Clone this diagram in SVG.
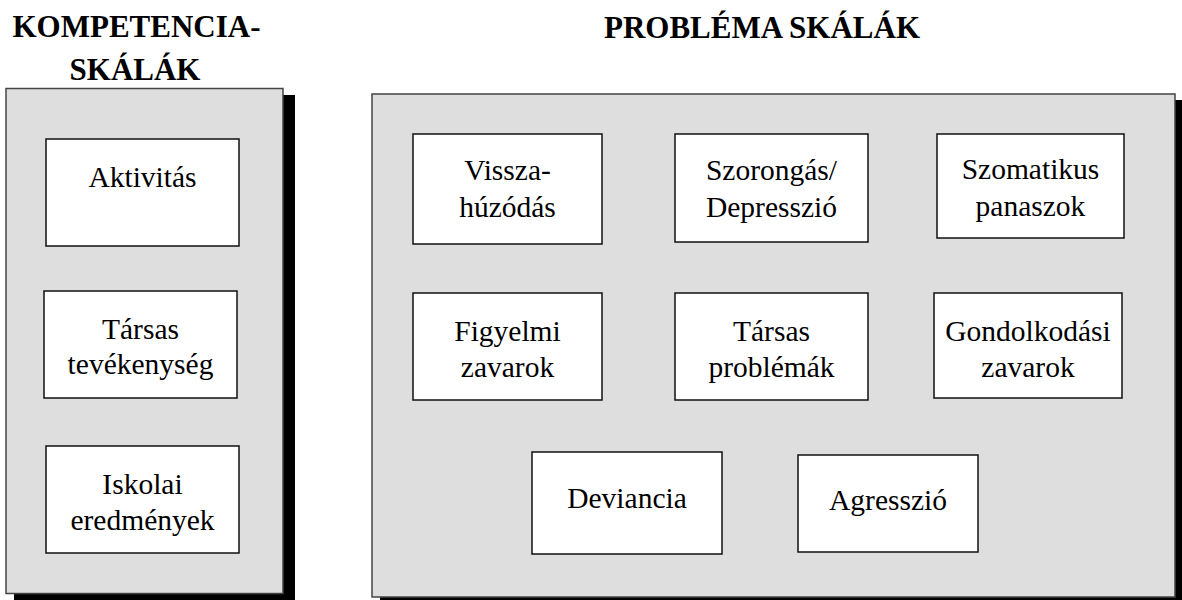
<svg xmlns="http://www.w3.org/2000/svg" width="1182" height="600" viewBox="0 0 1182 600">
<style>
.title{font-family:"Liberation Serif","Times New Roman",serif;font-weight:bold;font-size:31px;fill:#000;text-anchor:middle}
.lbl{font-family:"Liberation Serif","Times New Roman",serif;font-size:29.5px;fill:#000;text-anchor:middle}
.panel{fill:#dedede;stroke:#444;stroke-width:1.5}
.shadow{fill:#000}
.box{fill:#fff;stroke:#111;stroke-width:1.5}
</style>
<rect width="1182" height="600" fill="#fff"/>
<g id="title-kompetencia">
<text class="title" x="136.5" y="37">KOMPETENCIA-</text>
<text class="title" x="135" y="80">SKÁLÁK</text>
</g>
<g id="title-problema">
<text class="title" x="762" y="38">PROBLÉMA SKÁLÁK</text>
</g>
<g id="panel-kompetencia">
<rect class="shadow" x="14" y="95" width="281" height="510"/>
<rect class="panel" x="6" y="88.5" width="277" height="505"/>
</g>
<g id="panel-problema">
<rect class="shadow" x="380" y="100" width="810" height="510"/>
<rect class="panel" x="372" y="94" width="803" height="503"/>
</g>
<g id="node-aktivitas">
<rect class="box" x="46" y="139" width="193" height="107"/>
<text class="lbl" x="142.5" y="187">Aktivitás</text>
</g>
<g id="node-tarsas-tevekenyseg">
<rect class="box" x="44" y="291" width="193" height="107"/>
<text class="lbl" x="140.5" y="339">Társas</text>
<text class="lbl" x="140.5" y="374">tevékenység</text>
</g>
<g id="node-iskolai">
<rect class="box" x="46" y="446" width="193" height="107"/>
<text class="lbl" x="142.5" y="494">Iskolai</text>
<text class="lbl" x="142.5" y="530">eredmények</text>
</g>
<g id="node-visszahuzodas">
<rect class="box" x="413" y="134" width="189" height="110"/>
<text class="lbl" x="507.5" y="180">Vissza-</text>
<text class="lbl" x="507.5" y="217">húzódás</text>
</g>
<g id="node-szorongas">
<rect class="box" x="675" y="134" width="193" height="108"/>
<text class="lbl" x="771.5" y="180">Szorongás/</text>
<text class="lbl" x="771.5" y="217">Depresszió</text>
</g>
<g id="node-szomatikus">
<rect class="box" x="937" y="134" width="187" height="104"/>
<text class="lbl" x="1030.5" y="179">Szomatikus</text>
<text class="lbl" x="1030.5" y="216">panaszok</text>
</g>
<g id="node-figyelmi">
<rect class="box" x="413" y="293" width="189" height="107"/>
<text class="lbl" x="507.5" y="341">Figyelmi</text>
<text class="lbl" x="507.5" y="377">zavarok</text>
</g>
<g id="node-tarsas-problemak">
<rect class="box" x="675" y="293" width="193" height="107"/>
<text class="lbl" x="771.5" y="341">Társas</text>
<text class="lbl" x="771.5" y="377">problémák</text>
</g>
<g id="node-gondolkodasi">
<rect class="box" x="934" y="293" width="188" height="105"/>
<text class="lbl" x="1028" y="341">Gondolkodási</text>
<text class="lbl" x="1028" y="377">zavarok</text>
</g>
<g id="node-deviancia">
<rect class="box" x="532" y="452" width="190" height="102"/>
<text class="lbl" x="627" y="508">Deviancia</text>
</g>
<g id="node-agresszio">
<rect class="box" x="798" y="455" width="180" height="97"/>
<text class="lbl" x="888" y="510">Agresszió</text>
</g>
<g id="connectors"/>
</svg>
